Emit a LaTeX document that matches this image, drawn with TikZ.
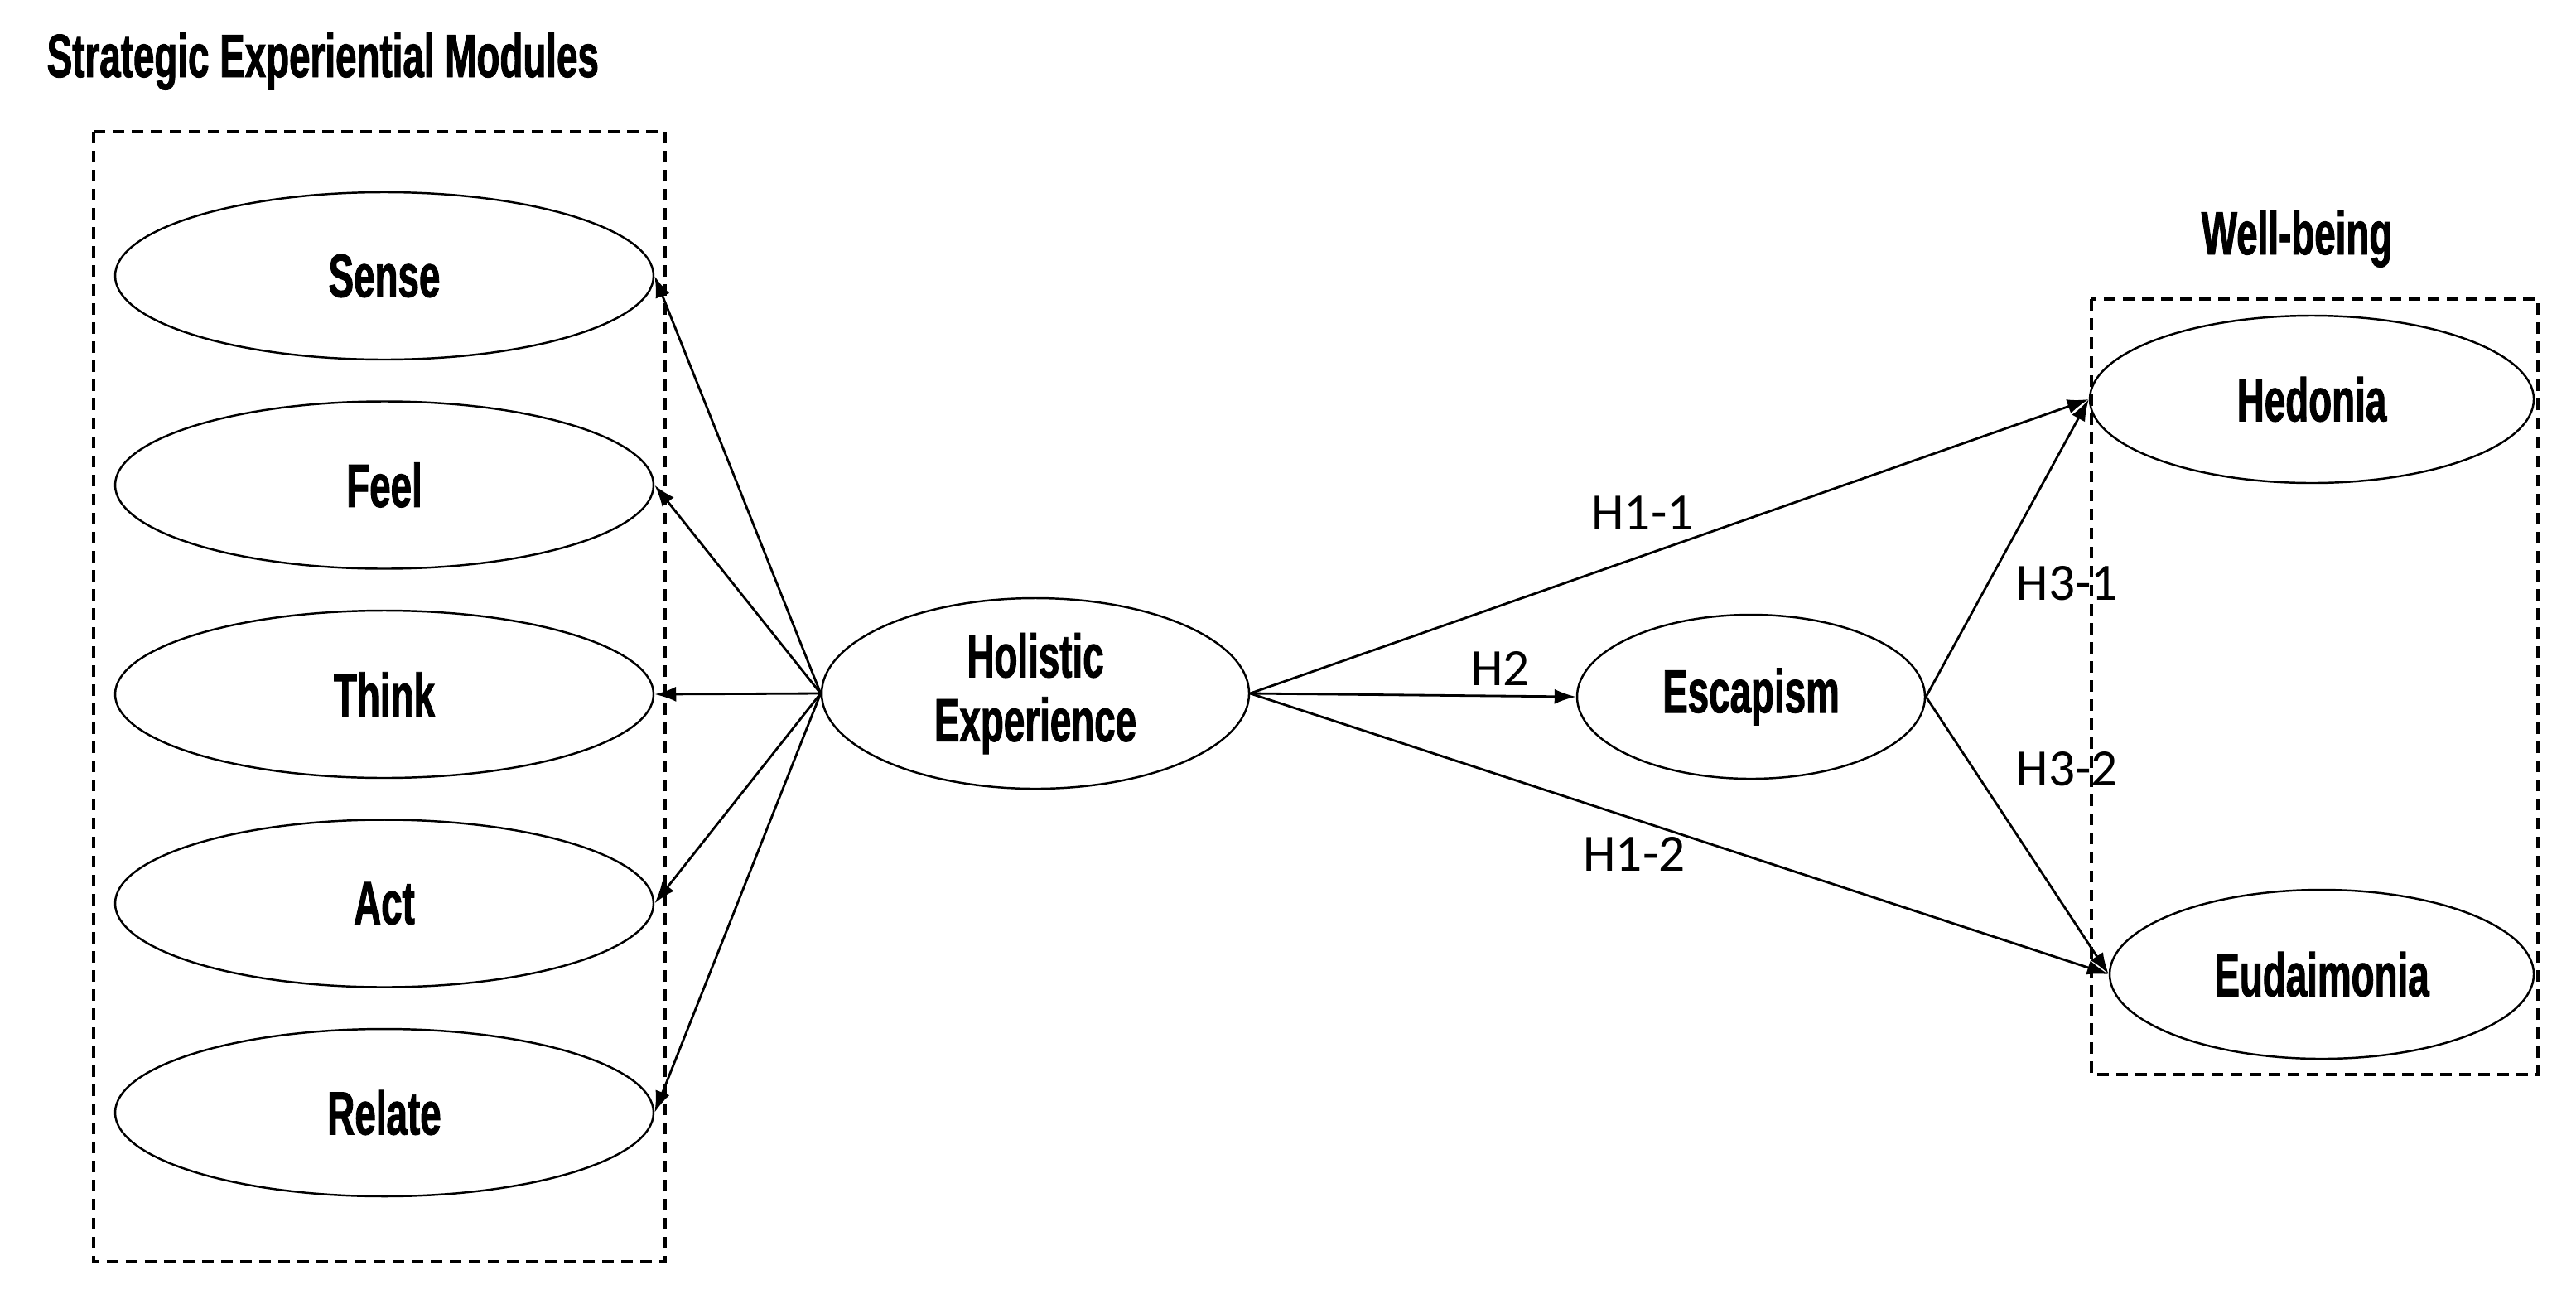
\documentclass[tikz,border=0pt]{standalone}
\usepackage{fontspec}
\usepackage{tikz}
\usetikzlibrary{arrows.meta,positioning,shapes.geometric}
\newfontfamily\condfont{Liberation Sans}[FakeStretch=0.62,FakeBold=1.2]
\newfontfamily\hypfont{Carlito}
\tikzset{
    module/.style={ellipse,draw,line width=0.7pt,inner sep=0pt,
        font=\condfont\bfseries\fontsize{21}{22}\selectfont,align=center},
    hyp/.style={font=\hypfont\fontsize{18}{20}\selectfont,inner sep=0pt},
    heading/.style={font=\condfont\bfseries\fontsize{21}{22}\selectfont,inner sep=0pt},
    dashbox/.style={draw,line width=1pt,dash pattern=on 1.4mm off 0.9mm},
    path/.style={line width=0.8pt,-{Latex[length=2.6mm,width=1.8mm]}}
}
\begin{document}
\begin{tikzpicture}[x=1cm,y=1cm]
\useasboundingbox (0,0) rectangle (31.1,-15.73);
\node[heading,anchor=base west] (semtitle) at (0.56,-0.93) {Strategic Experiential Modules};
\node[heading,anchor=base] (wbtitle) at (27.73,-3.07) {Well-being};
\draw[dashbox] (1.13,-1.59) rectangle (8.03,-15.23);
\draw[dashbox] (25.25,-3.61) rectangle (30.64,-12.97);
\foreach \n/\t [count=\i] in {sense/Sense,feel/Feel,think/Think,act/Act,relate/Relate} {
    \node[module,minimum width=6.5cm,minimum height=2.02cm] (\n) at (4.64,{-3.33-2.525*(\i-1)}) {\t};
}
\node[module,minimum width=5.16cm,minimum height=2.3cm] (holistic) at (12.5,-8.37) {Holistic\\Experience};
\node[module,minimum width=4.2cm,minimum height=1.98cm] (escapism) at (21.14,-8.41) {Escapism};
\node[module,minimum width=5.36cm,minimum height=2.02cm] (hedonia) at (27.91,-4.82) {Hedonia};
\node[module,minimum width=5.12cm,minimum height=2.04cm] (eudaimonia) at (28.03,-11.76) {Eudaimonia};
\foreach \n in {sense,feel,think,act,relate} {
    \draw[path] (holistic.west) -- (\n.east);
}
\draw[path] (holistic.east) -- (hedonia.west);
\draw[path] (holistic.east) -- (escapism.west);
\draw[path] (holistic.east) -- (eudaimonia.west);
\draw[path] (escapism.east) -- (hedonia.west);
\draw[path] (escapism.east) -- (eudaimonia.west);
\node[hyp] (h11) at (19.83,-6.19) {H1-1};
\node[hyp] (h2) at (18.11,-8.07) {H2};
\node[hyp] (h31) at (24.95,-7.04) {H3-1};
\node[hyp] (h32) at (24.95,-9.28) {H3-2};
\node[hyp] (h12) at (19.73,-10.31) {H1-2};
\end{tikzpicture}
\end{document}
